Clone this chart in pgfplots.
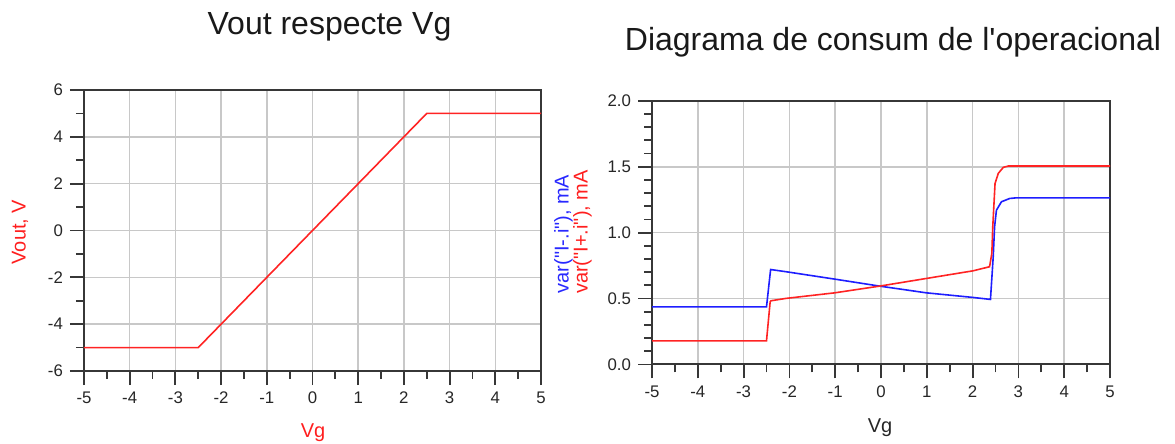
\documentclass[border=0pt]{standalone}
\usepackage{fontspec}
\setmainfont{Liberation Sans}
\newfontfamily\plainfont{Liberation Sans}
\usepackage{pgfplots}
\pgfplotsset{compat=1.18}
\definecolor{gridc}{RGB}{200,200,200}
\definecolor{axc}{RGB}{55,55,55}
\definecolor{myred}{RGB}{255,35,35}
\definecolor{myblue}{RGB}{30,30,255}
\definecolor{labred}{RGB}{255,30,30}
\definecolor{labblue}{RGB}{40,40,255}
\pgfplotsset{myaxis/.style={
  scale only axis,
  axis line style={axc, line width=1pt},
  tick style={axc, line width=0.9pt},
  tick align=outside,
  major tick length=7pt, minor tick length=4pt,
  tick pos=left,
  grid=major,
  major grid style={gridc, line width=0.8pt},
  ticklabel style={font=\fontsize{8.4}{10}\selectfont, text=black!85},
  xmin=-5, xmax=5,
  xtick={-5,-4,...,5},
  xticklabels={-5,-4,-3,-2,-1,0,1,2,3,4,5},
  minor x tick num=1,
  /pgf/number format/assume math mode=true,
}}
\begin{document}
\begin{tikzpicture}
\useasboundingbox (0,0) rectangle (587.5pt,-222pt);
% left axis
\begin{axis}[myaxis,
  at={(42pt,-185.5pt)}, anchor=south west,
  width=228.5pt, height=140.5pt,
  ymin=-6, ymax=6,
  ytick={-6,-4,...,6},
  yticklabels={-6,-4,-2,0,2,4,6},
  minor y tick num=1]
\addplot[myred, line width=0.8pt] coordinates {
(-5,-5) (-2.5,-5) (-2,-4) (-1,-2) (0,0) (1,2) (2,4) (2.5,5) (5,5)};
\end{axis}
% right axis
\begin{axis}[myaxis,
  at={(326pt,-182.2pt)}, anchor=south west,
  width=229pt, height=131.8pt,
  ymin=0, ymax=2,
  ytick={0,0.5,1,1.5,2},
  yticklabels={0.0,0.5,1.0,1.5,2.0},
  minor y tick num=4]
\addplot[myblue, line width=0.8pt] coordinates {
(-5,0.437) (-2.50,0.437) (-2.41,0.72) (-2.07,0.703) (-1.01,0.647) (-0.03,0.594)
(0.99,0.543) (2.01,0.508) (2.39,0.493) (2.45,0.816) (2.48,1.044) (2.52,1.17)
(2.63,1.234) (2.81,1.259) (2.96,1.264) (5,1.264)};
\addplot[myred, line width=0.8pt] coordinates {
(-5,0.179) (-2.50,0.179) (-2.42,0.475) (-2.40,0.483) (-2.07,0.501) (-1.01,0.543)
(-0.03,0.594) (0.99,0.652) (2.01,0.71) (2.37,0.741) (2.42,0.842) (2.44,1.044)
(2.49,1.373) (2.56,1.449) (2.67,1.495) (2.78,1.505) (5,1.505)};
\end{axis}
% titles and labels
\node[font=\fontsize{16}{19}\selectfont, text=black!90] at (164.75pt,-13.5pt) {Vout respecte Vg};
\node[font=\plainfont\fontsize{16}{19}\selectfont, text=black!90] at (446.5pt,-21pt) {Diagrama de consum de l'operacional};
\node[font=\fontsize{10}{12}\selectfont, text=labred, rotate=90] at (10pt,-116pt) {Vout, V};
\node[font=\fontsize{10}{12}\selectfont, text=labred] at (156.5pt,-216.5pt) {Vg};
\node[font=\plainfont\fontsize{10}{12}\selectfont, text=labblue, rotate=90] at (281.75pt,-117pt) {var("I-.i"), mA};
\node[font=\plainfont\fontsize{10}{12}\selectfont, text=labred, rotate=90] at (291.25pt,-116pt) {var("I+.i"), mA};
\node[font=\fontsize{10}{12}\selectfont, text=black!85] at (440pt,-214pt) {Vg};
\end{tikzpicture}
\end{document}
